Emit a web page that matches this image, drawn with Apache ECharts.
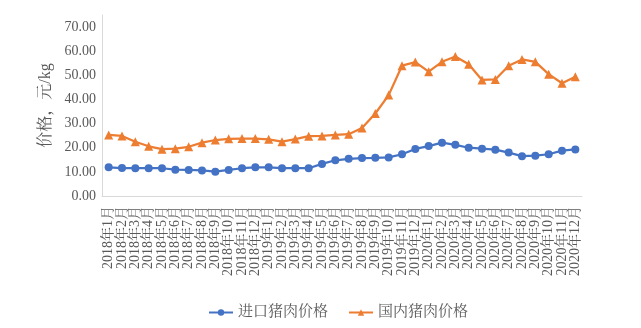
<!DOCTYPE html>
<html>
<head>
<meta charset="utf-8">
<script src="https://cdn.jsdelivr.net/npm/echarts@6/dist/echarts.min.js"></script>
<style>
  html, body { margin: 0; padding: 0; background: #ffffff; }
  #chart { width: 641px; height: 328px; }
</style>
</head>
<body>
<div id="chart"></div>
<script>
// Monthly categories, Jan 2018 – Dec 2020
const years = ['2018', '2019', '2020'];
const months = [1, 2, 3, 4, 5, 6, 7, 8, 9, 10, 11, 12];
const categories = [];
years.forEach(y => months.forEach(m => categories.push(y + '年' + m + '月')));

// Imported pork price (元/kg)
const importPrice = [
  11.9, 11.6, 11.5, 11.5, 11.5, 10.9, 10.8, 10.6, 10.1, 10.8, 11.5, 11.9,
  11.9, 11.5, 11.5, 11.5, 13.3, 14.8, 15.4, 15.7, 15.8, 16.0, 17.3, 19.5,
  20.7, 22.1, 21.2, 20.0, 19.6, 19.2, 18.0, 16.5, 16.7, 17.3, 18.8, 19.3
];

// Domestic pork price (元/kg)
const domesticPrice = [
  25.3, 24.9, 22.5, 20.6, 19.4, 19.6, 20.4, 22.1, 23.2, 23.7, 23.8, 23.8,
  23.5, 22.5, 23.6, 24.8, 24.9, 25.3, 25.6, 28.2, 34.2, 41.8, 54.0, 55.5,
  51.5, 55.6, 57.8, 54.6, 48.1, 48.3, 54.0, 56.6, 55.6, 50.5, 46.7, 49.4
];

const seriesNames = ['进口猪肉价格', '国内猪肉价格'];
const yTicks = { min: 0, max: 75, interval: 10 };

const FONT = "'Times New Roman', 'Liberation Serif', 'Noto Serif CJK SC', 'Noto Sans CJK SC', serif";
const TEXT = '#595959';

const chart = echarts.init(document.getElementById('chart'), null, { renderer: 'canvas' });

chart.setOption({
  animation: false,
  textStyle: { fontFamily: FONT },
  grid: { left: 102, right: 59, top: 15, bottom: 132, containLabel: false },
  legend: {
    bottom: 3,
    left: 203,
    itemGap: 20,
    itemWidth: 24,
    itemHeight: 8,
    textStyle: { fontFamily: FONT, fontSize: 15, color: TEXT },
    data: seriesNames
  },
  xAxis: {
    type: 'category',
    data: categories,
    boundaryGap: true,
    axisLine: { show: true, lineStyle: { color: '#D9D9D9', width: 1 } },
    axisTick: { show: false },
    axisLabel: {
      interval: 0,
      rotate: 90,
      margin: 10,
      fontFamily: FONT,
      fontSize: 14,
      color: TEXT
    }
  },
  yAxis: {
    type: 'value',
    min: yTicks.min,
    max: yTicks.max,
    interval: yTicks.interval,
    name: '价格，元/kg',
    nameLocation: 'middle',
    nameRotate: 90,
    nameGap: 32,
    nameTextStyle: { fontFamily: FONT, fontSize: 16, color: TEXT },
    splitLine: { show: false },
    axisTick: { show: false },
    axisLine: { show: true, lineStyle: { color: '#D9D9D9', width: 1 } },
    axisLabel: {
      showMaxLabel: false,
      margin: 6,
      fontFamily: FONT,
      fontSize: 14,
      color: TEXT,
      formatter: v => v.toFixed(2)
    }
  },
  series: [
    {
      name: seriesNames[0],
      type: 'line',
      data: importPrice,
      symbol: 'circle',
      symbolSize: 8,
      lineStyle: { color: '#4472C4', width: 2.25 },
      itemStyle: { color: '#4472C4' }
    },
    {
      name: seriesNames[1],
      type: 'line',
      data: domesticPrice,
      symbol: 'triangle',
      symbolSize: 9,
      lineStyle: { color: '#ED7D31', width: 2.25 },
      itemStyle: { color: '#ED7D31' }
    }
  ]
});
</script>
</body>
</html>
